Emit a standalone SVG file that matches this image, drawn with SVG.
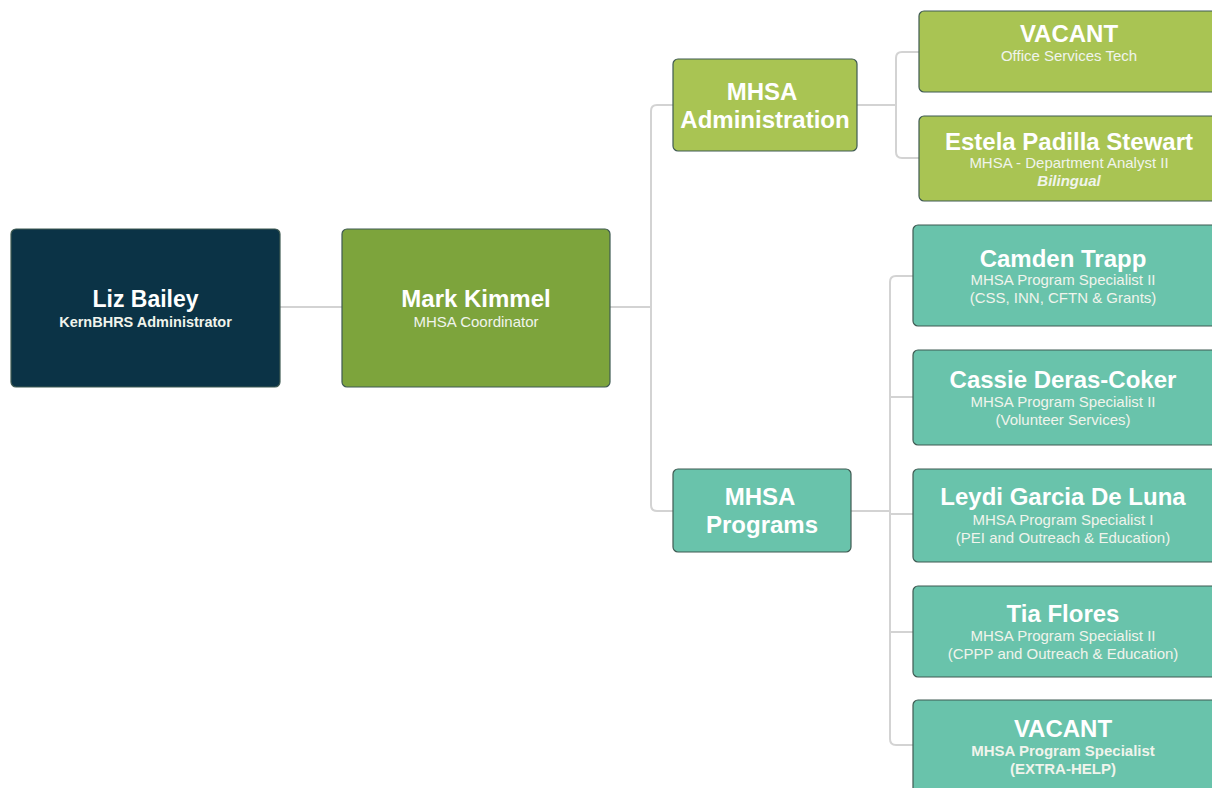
<svg xmlns="http://www.w3.org/2000/svg" width="1212" height="788" viewBox="0 0 1212 788">
<style>
.box{stroke:#3f5a52;stroke-width:1.2}
.dark{fill:#0b3346}
.olive{fill:#7da43c}
.lime{fill:#a9c453}
.teal{fill:#69c3ab}
.conn{fill:none;stroke:#d3d3d3;stroke-width:2}
text{font-family:"Liberation Sans",Arial,sans-serif;text-anchor:middle;fill:#ffffff}
.name{font-size:24px;font-weight:bold}
.big{font-size:24px;font-weight:bold}
.sub{font-size:15px;fill:#f0f4ec}
.subb{font-size:15px;font-weight:bold;fill:#f0f4ec}
.it{font-size:15px;font-weight:bold;font-style:italic;fill:#f0f4ec}
</style>
<rect width="1212" height="788" fill="#ffffff"/>
<g id="connectors">
<path class="conn" d="M280 307 H342"/>
<path class="conn" d="M610 307 H651"/>
<path class="conn" d="M673 105 H657 Q651 105 651 111 V505 Q651 511 657 511 H673"/>
<path class="conn" d="M857 105 H896"/>
<path class="conn" d="M919 52 H902 Q896 52 896 58 V152 Q896 158 902 158 H919"/>
<path class="conn" d="M851 511 H890"/>
<path class="conn" d="M913 276 H896 Q890 276 890 282 V739 Q890 745 896 745 H913"/>
<path class="conn" d="M890 397 H913"/>
<path class="conn" d="M890 514 H913"/>
<path class="conn" d="M890 632 H913"/>
</g>
<g id="liz-bailey">
<rect class="box dark" x="11" y="229" width="269" height="158" rx="5"/>
<text class="name" x="145.5" y="307" style="font-size:23px">Liz Bailey</text>
<text class="subb" x="145.5" y="327" style="font-size:14.5px">KernBHRS Administrator</text>
</g>
<g id="mark-kimmel">
<rect class="box olive" x="342" y="229" width="268" height="158" rx="5"/>
<text class="name" x="476" y="307">Mark Kimmel</text>
<text class="sub" x="476" y="327">MHSA Coordinator</text>
</g>
<g id="mhsa-administration">
<rect class="box lime" x="673" y="59" width="184" height="92" rx="5"/>
<text class="big" x="762" y="100">MHSA</text>
<text class="big" x="765" y="128">Administration</text>
</g>
<g id="mhsa-programs">
<rect class="box teal" x="673" y="469" width="178" height="83" rx="5"/>
<text class="big" x="760" y="505">MHSA</text>
<text class="big" x="762" y="533">Programs</text>
</g>
<g id="vacant-office">
<rect class="box lime" x="919" y="11" width="300" height="81" rx="5"/>
<text class="name" x="1069" y="42">VACANT</text>
<text class="sub" x="1069" y="61">Office Services Tech</text>
</g>
<g id="estela">
<rect class="box lime" x="919" y="116" width="300" height="85" rx="5"/>
<text class="name" x="1069" y="150">Estela Padilla Stewart</text>
<text class="sub" x="1069" y="168">MHSA - Department Analyst II</text>
<text class="it" x="1069" y="186">Bilingual</text>
</g>
<g id="camden">
<rect class="box teal" x="913" y="225" width="306" height="101" rx="5"/>
<text class="name" x="1063" y="267">Camden Trapp</text>
<text class="sub" x="1063" y="285">MHSA Program Specialist II</text>
<text class="sub" x="1063" y="303">(CSS, INN, CFTN &amp; Grants)</text>
</g>
<g id="cassie">
<rect class="box teal" x="913" y="350" width="306" height="95" rx="5"/>
<text class="name" x="1063" y="388">Cassie Deras-Coker</text>
<text class="sub" x="1063" y="407">MHSA Program Specialist II</text>
<text class="sub" x="1063" y="425">(Volunteer Services)</text>
</g>
<g id="leydi">
<rect class="box teal" x="913" y="469" width="306" height="93" rx="5"/>
<text class="name" x="1063" y="505">Leydi Garcia De Luna</text>
<text class="sub" x="1063" y="525">MHSA Program Specialist I</text>
<text class="sub" x="1063" y="543">(PEI and Outreach &amp; Education)</text>
</g>
<g id="tia">
<rect class="box teal" x="913" y="586" width="306" height="91" rx="5"/>
<text class="name" x="1063" y="622">Tia Flores</text>
<text class="sub" x="1063" y="641">MHSA Program Specialist II</text>
<text class="sub" x="1063" y="659">(CPPP and Outreach &amp; Education)</text>
</g>
<g id="vacant-specialist">
<rect class="box teal" x="913" y="700" width="306" height="100" rx="5"/>
<text class="name" x="1063" y="737">VACANT</text>
<text class="subb" x="1063" y="756">MHSA Program Specialist</text>
<text class="subb" x="1063" y="774">(EXTRA-HELP)</text>
</g>
</svg>
